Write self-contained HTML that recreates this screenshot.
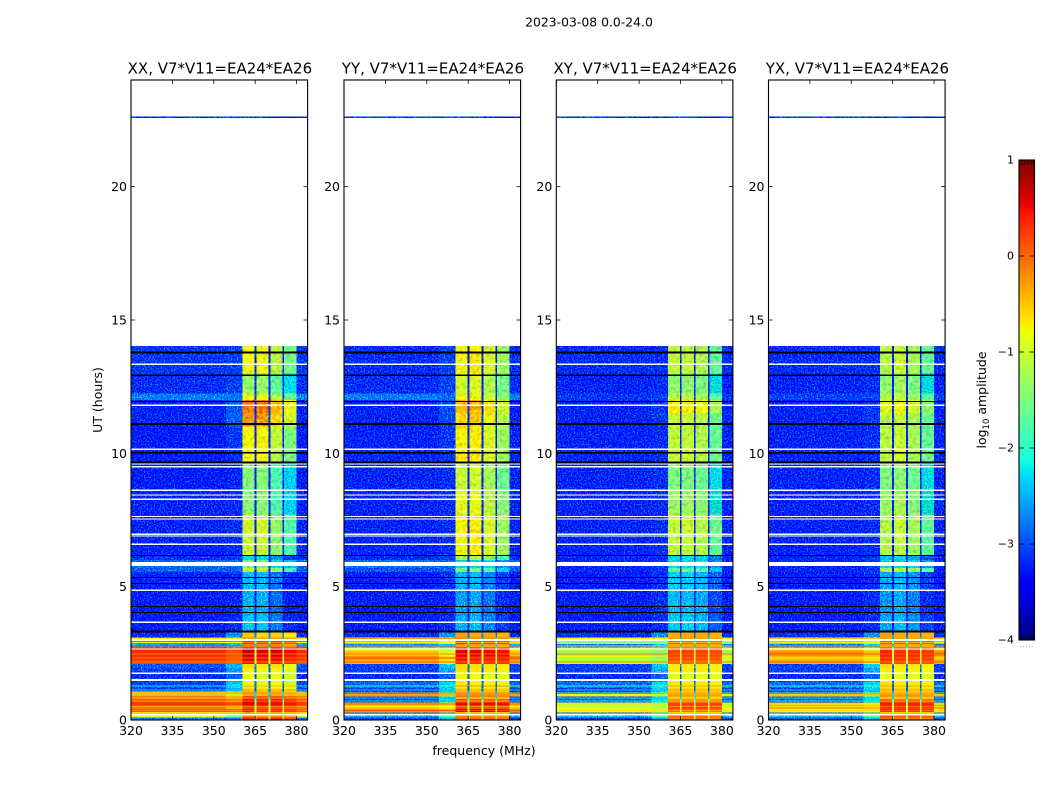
<!DOCTYPE html>
<html lang="en">
<head>
<meta charset="utf-8">
<title>2023-03-08 0.0-24.0</title>
<style>
html,body{margin:0;padding:0;background:#fff;width:1050px;height:800px;overflow:hidden}
svg{display:block}
text{font-family:"DejaVu Sans","Liberation Sans",sans-serif;fill:#000}
.tick{font-size:12.5px}
.title{font-size:15px}
</style>
</head>
<body>
<svg id="figure" xmlns="http://www.w3.org/2000/svg" width="1050" height="800" viewBox="0 0 1050 800">
  <defs>
    <linearGradient id="jet-gradient" x1="0" y1="1" x2="0" y2="0"></linearGradient>
    <filter id="speckle" x="0" y="0" width="1" height="1" color-interpolation-filters="sRGB">
      <feTurbulence type="fractalNoise" baseFrequency="0.7" numOctaves="1" seed="4" result="n"/>
      <feColorMatrix in="n" type="matrix" values="0 0 0 0 0  2 0 0 0 -0.85  0 1.4 0 0 -0.3  0 0 0 0 1" result="c"/>
      <feComposite in="SourceGraphic" in2="c" operator="arithmetic" k1="0" k2="1" k3="1" k4="-0.3" result="m"/>
      <feComposite in="m" in2="SourceAlpha" operator="in"/>
    </filter>
    <filter id="mottle" x="0" y="0" width="1" height="1" color-interpolation-filters="sRGB">
      <feTurbulence type="fractalNoise" baseFrequency="0.3" numOctaves="2" seed="9" result="n"/>
      <feColorMatrix in="n" type="matrix" values="0.7 0 0 0 -0.05  0 0.7 0 0 -0.05  0 0 0 0 0.3  0 0 0 0 1" result="c"/>
      <feComposite in="SourceGraphic" in2="c" operator="arithmetic" k1="0" k2="1" k3="1" k4="-0.3" result="m"/>
      <feComposite in="m" in2="SourceAlpha" operator="in"/>
    </filter>
  </defs>
  <text x="589" y="26.5" text-anchor="middle" font-size="12.4">2023-03-08 0.0-24.0</text>
  <text x="484" y="755" text-anchor="middle" font-size="12.5">frequency (MHz)</text>
  <text transform="translate(102,400) rotate(-90)" text-anchor="middle" font-size="12.5">UT (hours)</text>
  <g id="panels"></g>
  <g id="colorbar"></g>
  <text transform="translate(986,400) rotate(-90)" text-anchor="middle" font-size="12.5">log<tspan font-size="8.5" dy="3">10</tspan><tspan dy="-3"> amplitude</tspan></text>
</svg>
<script>
// ---------- chart data (hours, MHz, log10 amplitude) ----------
const panelTitles = ["XX, V7*V11=EA24*EA26", "YY, V7*V11=EA24*EA26", "XY, V7*V11=EA24*EA26", "YX, V7*V11=EA24*EA26"];
const xTicks = [320, 335, 350, 365, 380];
const yTicks = [0, 5, 10, 15, 20];
const colorTicks = [-4, -3, -2, -1, 0, 1];

const timeStart = [0,.1,.2,.3,.42,.55,.65,.78,.88,.98,1.06,1.2,1.45,1.8,1.95,2.1,2.25,2.4,2.6,2.72,2.85,2.98,3.1,3.3,3.9,4.9,5.55,5.7,6,6.15,7,7.7,8.6,9.6,10.1,11,11.5,12,12.25,13,22.58];
const timeEnd = [.1,.2,.3,.42,.55,.65,.78,.88,.98,1.06,1.2,1.45,1.8,1.95,2.1,2.25,2.4,2.6,2.72,2.85,2.98,3.1,3.3,3.9,4.9,5.55,5.7,6,6.15,7,7.7,8.6,9.6,10.1,11,11.5,12,12.25,13,14.03,22.63];

const offXX = [-2.6,-.9,-.7,.1,-.1,.25,.1,.05,-.2,-.7,-2.9,-2.9,-3,-2.9,-2.8,.2,.3,.35,.25,-2.5,.1,-.3,-3,-3.1,-3.1,-3.05,-2.75,-2.7,-3,-3.05,-3.05,-3.05,-3.1,-3.1,-3.1,-3.05,-3.05,-2.6,-3,-2.95,-3];
const offYY = [-2.9,-2.4,-2.6,-.2,-.5,-.45,-2.9,-2.9,-.4,-2.9,-2.9,-2.7,-3,-2.9,-2.9,-.4,-.2,-.5,-.9,-2.5,-.4,-.8,-3,-3.1,-3.1,-3.1,-2.8,-2.7,-3,-3.05,-3.05,-3.05,-3.05,-3.05,-3.05,-3.05,-3.05,-2.6,-3,-3,-3];
const offXY = [-2.9,-2.3,-2.6,-.9,-.8,-1,-2.8,-2.9,-.9,-2.9,-2.9,-2.7,-3,-2.9,-2.9,-1.1,-.8,-1.3,-1,-2.6,-1.1,-1.1,-3,-3.1,-3.1,-3.1,-3.05,-3.05,-3.05,-3.05,-3.05,-3.05,-3.05,-3.05,-3.05,-3.05,-3.05,-2.95,-3.05,-3,-3];
const offYX = [-2.8,-2.3,-2.5,-.9,-.35,-.4,-2.8,-2.9,-.7,-2.9,-2.9,-2.7,-3,-2.9,-2.9,-.4,-.4,-.2,-.6,-2.6,-.4,-.8,-3,-3.1,-3.1,-3.1,-3.05,-3.05,-3.05,-3.05,-3.05,-3.05,-3.05,-3.05,-3.05,-3.05,-3.05,-2.9,-3.05,-3,-3];

const shoulderXX = [-2.5,-1.6,-1.2,0,-.4,.1,-.1,-.2,-.6,-1,-2.3,-2.2,-2.75,-2.5,-2.3,.05,.1,.15,.1,-2.3,-.1,-.5,-2.5,-3,-3.05,-3,-2.75,-2.7,-2.95,-3,-3,-3,-3.05,-3,-2.95,-2.75,-2.8,-2.65,-2.9,-2.9,-3];
const shoulderYY = [-2.3,-1.8,-2.1,-.4,-.7,-.6,-2.1,-2.25,-.9,-2.2,-2.2,-2.1,-2.75,-2.4,-2.25,-.7,-.6,-.9,-1.2,-2.3,-.8,-1.2,-2.5,-3,-3.05,-3,-2.75,-2.7,-2.95,-3,-3,-3,-3,-3,-2.95,-2.85,-2.85,-2.7,-2.9,-2.9,-3];
const shoulderXY = [-2.3,-1.8,-2.1,-1.1,-1,-1.2,-2.1,-2.25,-1.2,-2.2,-2.2,-2.1,-2.75,-2.4,-2.25,-1.3,-1.1,-1.4,-1.3,-2.3,-1.3,-1.5,-2.5,-3,-3,-3,-2.95,-2.95,-3,-3,-3,-3,-3,-3,-3,-2.95,-2.95,-2.9,-3,-3,-3];
const shoulderYX = [-2.2,-1.7,-2.1,-1,-.5,-.6,-2.1,-2.2,-1,-2.2,-2.2,-2.1,-2.75,-2.4,-2.2,-.7,-.6,-.5,-.9,-2.3,-.7,-1.2,-2.5,-3,-3,-3,-2.95,-2.95,-3,-3,-3,-3,-3,-3,-3,-2.95,-2.95,-2.9,-3,-3,-3];

const bandXX = [.3,-.2,-.2,.3,.1,.45,.4,.3,-.1,-.3,-.75,-.85,-.9,-.8,-.7,.4,.5,.6,.55,-.2,.2,-.3,-.6,-2.3,-2.4,-2.35,-1.1,-1.6,-2.2,-1.1,-1.05,-1.5,-1.5,-.85,-.8,-.3,-.15,-.9,-1.4,-.85,-3];
const bandYY = [-.1,-.2,-.5,.5,.1,.4,.1,-.3,0,-.4,-.7,-.8,-.85,-.75,-.7,.3,.4,.5,.3,-.3,.2,-.2,-.4,-2.4,-2.5,-2.4,-1.6,-2,-1.3,-.8,-.8,-.95,-1.1,-.75,-.8,-.65,-.5,-.9,-1.05,-.8,-3];
const bandXY = [-.1,0,-.6,0,.2,.2,-.2,-.5,-.2,-.5,-.6,-.7,-.85,-.7,-.7,.05,.2,.25,.05,-.3,0,-.4,-.35,-2.3,-2.4,-2.3,-1.8,-2.1,-2.2,-1.2,-1.15,-1.4,-1.6,-1.15,-1.2,-1.15,-.8,-1.25,-1.5,-1.2,-3];
const bandYX = [-.1,.1,-.5,.3,.25,.35,0,-.4,-.1,-.5,-.6,-.7,-.85,-.75,-.7,.2,.3,.35,.1,-.3,.1,-.3,-.35,-2.4,-2.5,-2.4,-1.2,-2,-2.3,-1.2,-1.15,-1.35,-1.5,-1.1,-1.15,-1.15,-.9,-1.2,-1.4,-1.15,-3];

const gapValues = [-1.5,-1.5,-1,-1,-1,-1.5,-1.5,-2,-2,-2,-2.7,-2.7,-2.8,-2.7,-2.6,-1,-1,-1,-1,-2.2,-1.5,-2,-2.6,-3.1,-3.1,-3.1,-3,-3,-3.1,-3.1,-3.1,-3.1,-3.1,-3.1,-3.1,-3,-3,-3,-3.1,-3.1,-3];

// window-to-window amplitude offsets [win1..win4], for late and early hours
const windowOffsetUpperXX = [.05,.05,-.3,-.7];
const windowOffsetUpperYY = [.05,.1,-.15,-.5];
const windowOffsetUpperXY = [.1,.1,0,-.45];
const windowOffsetUpperYX = [0,.1,-.1,-.5];
const windowOffsetLowerXX = [.1,0,.05,-.1];
const windowOffsetLowerYY = [.1,.05,.05,0];
const windowOffsetLowerXY = [0,0,0,-.05];
const windowOffsetLowerYX = [.05,0,0,-.05];

// thin single-integration stripes in the bright early hours
const stripeHours = [.27,.36,.5,.6,.72,.83,.93,1.02,1.13,1.28,2.17,2.32,2.47,2.78,2.9,3.05];
const stripeOffXX = [-.5,-.2,-.35,.3,-.3,-.6,-1.2,-.2,-2.4,-2.2,-.1,-.05,-.2,.1,-.8,-.7];
const stripeOffYY = [-.2,.1,-.8,.1,-2.4,-2.4,-.2,-.5,-2.4,-1.9,.1,.2,-.1,-.1,-.8,-.3];
const stripeOffXY = [-.6,-.7,-1.2,-.6,-2.2,-2.2,-.7,-1.3,-2.4,-1.9,-.2,-1.6,-.1,-.5,-1.5,-.7];
const stripeOffYX = [-.5,-.6,-.6,-.8,-2.2,-2.2,-.3,-1.3,-2.4,-1.9,.1,-.9,.1,-.2,-.9,-.5];
const stripeBandXX = [-.6,.1,-.1,.6,0,-.4,-.7,-.3,-.2,-.4,-.05,.1,0,-.1,-.1,-.3];
const stripeBandYY = [-.5,.2,-.2,.6,-.3,-.6,-.4,-.2,-.3,-.2,.05,.1,.05,-.4,-.4,-.2];
const stripeBandXY = [-.5,-.3,-.2,.25,-.3,-.6,-.4,-.3,-.3,-.3,-.1,-.1,0,-.4,-.4,-.3];
const stripeBandYX = [-.5,0,0,.45,-.2,-.6,-.4,-.3,-.3,-.3,-.05,0,.05,-.4,-.4,-.3];

// flagged (no-data) rows: hour centre and thickness in hours
const whiteRowHours = [13.34,11.8,10.15,9.6,9.5,8.62,8.44,8.28,7.63,7.54,6.97,6.9,6.59,5.85,4.86,3.66,3.0,2.66,1.75,1.5,.2];
const whiteRowWidths = [.05,.05,.05,.05,.05,.05,.05,.05,.05,.05,.05,.05,.05,.16,.05,.05,.09,.05,.05,.08,.05];
const blackRowHours = [13.78,12.93,11.94,11.1,10.02,9.66,6.17,5.34,5.12,4.26,4.03,3.32];
const blackRowWidths = [.07,.07,.04,.07,.07,.07,.04,.04,.04,.04,.04,.06];

// spectral layout (MHz)
const sectionStart = [320,354.5,360.4,364.8,365.4,369.9,370.5,374.9,375.5,380];
const sectionEnd = [354.5,360.4,364.8,365.4,369.9,370.5,374.9,375.5,380,384];

// ---------- layout ----------
const SVGNS = "http://www.w3.org/2000/svg";
const panelLeft = [131, 344, 556.3, 768.5];
const panelWidth = 176.6;
const plotTop = 80, plotBottom = 720;
const freqMin = 320, freqMax = 384, hourMax = 24;
const colorMin = -4, colorMax = 1;
const cbLeft = 1019, cbRight = 1034.5, cbTop = 160, cbBottom = 640;

function xScale(panelIndex, f){ return panelLeft[panelIndex] + (f - freqMin) / (freqMax - freqMin) * panelWidth; }
function yScale(h){ return plotBottom - h / hourMax * (plotBottom - plotTop); }
function cbScale(v){ return cbBottom - (v - colorMin) / (colorMax - colorMin) * (cbBottom - cbTop); }

function interp(knots, t){
  for (let i = 1; i < knots.length; i++) {
    if (t <= knots[i][0]) {
      const a = knots[i-1], b = knots[i];
      return a[1] + (b[1]-a[1]) * (t-a[0]) / (b[0]-a[0]);
    }
  }
  return knots[knots.length-1][1];
}
const jetR = [[0,0],[.35,0],[.66,1],[.89,1],[1,.5]];
const jetG = [[0,0],[.125,0],[.375,1],[.64,1],[.91,0],[1,0]];
const jetB = [[0,.5],[.11,1],[.34,1],[.65,0],[1,0]];
function jet(v){
  const t = Math.max(0, Math.min(1, (v - colorMin) / (colorMax - colorMin)));
  const c = a => Math.round(255 * interp(a, t));
  return "rgb(" + c(jetR) + "," + c(jetG) + "," + c(jetB) + ")";
}
function make(tag, attrs){
  const el = document.createElementNS(SVGNS, tag);
  for (const k in attrs) el.setAttribute(k, attrs[k]);
  return el;
}

const offAll = [offXX, offYY, offXY, offYX];
const shoulderAll = [shoulderXX, shoulderYY, shoulderXY, shoulderYX];
const bandAll = [bandXX, bandYY, bandXY, bandYX];
const upperAll = [windowOffsetUpperXX, windowOffsetUpperYY, windowOffsetUpperXY, windowOffsetUpperYX];
const lowerAll = [windowOffsetLowerXX, windowOffsetLowerYY, windowOffsetLowerXY, windowOffsetLowerYX];
const stripeOffAll = [stripeOffXX, stripeOffYY, stripeOffXY, stripeOffYX];
const stripeBandAll = [stripeBandXX, stripeBandYY, stripeBandXY, stripeBandYX];

function sectionValue(p, row, s){
  if (s === 0 || s === 9) return offAll[p][row];
  if (s === 1) return shoulderAll[p][row];
  if (s === 3 || s === 5 || s === 7) return gapValues[row];
  const win = (s - 2) / 2;
  const offs = timeStart[row] >= 3.3 ? upperAll[p] : lowerAll[p];
  return bandAll[p][row] + offs[win];
}

const panelsRoot = document.getElementById("panels");
panelTitles.forEach(function(title, p){
  const g = make("g", {});
  
  
  panelsRoot.appendChild(g);

  const x0 = panelLeft[p], x1 = panelLeft[p] + panelWidth;

  const cellsHot = make("g", {"shape-rendering": "crispEdges"});
  
  
  const cellsLow = make("g", {"shape-rendering": "crispEdges", filter: "url(#speckle)"});
  
  
  const cellsMid = make("g", {"shape-rendering": "crispEdges", filter: "url(#mottle)"});
  
  
  g.appendChild(cellsHot);
  g.appendChild(cellsMid);
  g.appendChild(cellsLow);

  timeStart.forEach(function(t0, row){
    const yTop = yScale(timeEnd[row]), yBot = yScale(t0);
    sectionStart.forEach(function(f0, s){
      const v = sectionValue(p, row, s);
      const xa = xScale(p, f0), xb = xScale(p, sectionEnd[s]);
      const cell = make("rect", {x: xa.toFixed(2), y: yTop.toFixed(2), width: (xb-xa).toFixed(2), height: Math.max(yBot-yTop, 1).toFixed(2), fill: jet(v)});
      
      
      const target = v < -1.8 ? cellsLow : (t0 >= 3.3 ? cellsMid : cellsHot);
      target.appendChild(cell);
    });
  });

  const stripes = make("g", {"shape-rendering": "crispEdges"});
  
  
  g.appendChild(stripes);
  stripeHours.forEach(function(h, i){
    const y = yScale(h + .02);
    const hh = .04 / hourMax * (plotBottom - plotTop);
    [0, 1, 2, 4, 6, 8, 9].forEach(function(s){
      const isWindow = s >= 2 && s <= 8;
      const v = isWindow ? stripeBandAll[p][i] : stripeOffAll[p][i];
      const xa = xScale(p, sectionStart[s]), xb = xScale(p, sectionEnd[s]);
      const r = make("rect", {x: xa.toFixed(2), y: y.toFixed(2), width: (xb-xa).toFixed(2), height: hh.toFixed(2), fill: jet(v)});
      
      
      stripes.appendChild(r);
    });
  });

  whiteRowHours.forEach(function(h, i){
    const hh = whiteRowWidths[i] / hourMax * (plotBottom - plotTop);
    const r = make("rect", {x: x0, y: (yScale(h) - hh/2).toFixed(2), width: panelWidth, height: hh.toFixed(2), fill: "#fff", "shape-rendering": "crispEdges"});
    
    
    g.appendChild(r);
  });
  blackRowHours.forEach(function(h, i){
    const hh = blackRowWidths[i] / hourMax * (plotBottom - plotTop);
    const r = make("rect", {x: x0, y: (yScale(h) - hh/2).toFixed(2), width: panelWidth, height: hh.toFixed(2), fill: "#000", "shape-rendering": "crispEdges"});
    
    
    g.appendChild(r);
  });

  // ticks
  xTicks.forEach(function(f){
    const x = xScale(p, f);
    const tb = make("line", {x1: x, x2: x, y1: plotBottom, y2: plotBottom - 4, stroke: "#000", "stroke-width": 0.8});
    
    
    g.appendChild(tb);
    const tt = make("line", {x1: x, x2: x, y1: plotTop, y2: plotTop + 4, stroke: "#000", "stroke-width": 0.8});
    
    
    g.appendChild(tt);
    const lab = make("text", {x: x, y: 735, "text-anchor": "middle", class: "tick"});
    
    
    lab.textContent = String(f);
    g.appendChild(lab);
  });
  yTicks.forEach(function(h){
    const y = yScale(h);
    const tl = make("line", {x1: x0, x2: x0 + 4, y1: y, y2: y, stroke: "#000", "stroke-width": 0.8});
    
    
    g.appendChild(tl);
    const tr = make("line", {x1: x1 - 4, x2: x1, y1: y, y2: y, stroke: "#000", "stroke-width": 0.8});
    
    
    g.appendChild(tr);
    const lab = make("text", {x: x0 - 4, y: y + 4.5, "text-anchor": "end", class: "tick"});
    
    
    lab.textContent = String(h);
    g.appendChild(lab);
  });

  const frame = make("rect", {x: x0, y: plotTop, width: panelWidth, height: plotBottom - plotTop, fill: "none", stroke: "#000", "stroke-width": 1.1});
  
  
  g.appendChild(frame);

  const ttl = make("text", {x: x0 + panelWidth/2 + 0.6, y: 73.5, "text-anchor": "middle", class: "title"});
  
  
  ttl.textContent = title;
  g.appendChild(ttl);
});

// ---------- colour bar ----------
const grad = document.getElementById("jet-gradient");
[0,.11,.125,.34,.35,.375,.5,.64,.65,.66,.89,.91,1].forEach(function(t){
  grad.appendChild(make("stop", {offset: t, "stop-color": jet(colorMin + t * (colorMax - colorMin))}));
});
const cb = document.getElementById("colorbar");
const cbFill = make("rect", {x: cbLeft, y: cbTop, width: cbRight - cbLeft, height: cbBottom - cbTop, fill: "url(#jet-gradient)"});


cb.appendChild(cbFill);
colorTicks.forEach(function(v){
  const y = cbScale(v);
  const a = make("line", {x1: cbLeft, x2: cbLeft + 5, y1: y, y2: y, stroke: "#000", "stroke-width": 0.8});
  
  
  cb.appendChild(a);
  const b = make("line", {x1: cbRight - 5, x2: cbRight, y1: y, y2: y, stroke: "#000", "stroke-width": 0.8});
  
  
  cb.appendChild(b);
  const lab = make("text", {x: cbLeft - 5, y: y + 3.5, "text-anchor": "end", "font-size": 11});
  
  
  lab.textContent = (v < 0 ? "\u2212" + Math.abs(v) : String(v));
  cb.appendChild(lab);
});
const cbMinorOffsets = [3, 6, 9, 12, 14.5];
cbMinorOffsets.forEach(function(dx){
  const a = make("line", {x1: cbLeft + dx, x2: cbLeft + dx, y1: cbTop, y2: cbTop + 5, stroke: "#000", "stroke-width": 0.7});
  
  
  cb.appendChild(a);
  const b = make("line", {x1: cbLeft + dx, x2: cbLeft + dx, y1: cbBottom - 5, y2: cbBottom, stroke: "#000", "stroke-width": 0.7});
  
  
  cb.appendChild(b);
  const d = make("rect", {x: cbLeft + dx - 2, y: 646, width: 1, height: 1, fill: "#aaa"});
  
  
  cb.appendChild(d);
});
const cbFrame = make("rect", {x: cbLeft, y: cbTop, width: cbRight - cbLeft, height: cbBottom - cbTop, fill: "none", stroke: "#000", "stroke-width": 1.1});


cb.appendChild(cbFrame);
</script>
</body>
</html>
